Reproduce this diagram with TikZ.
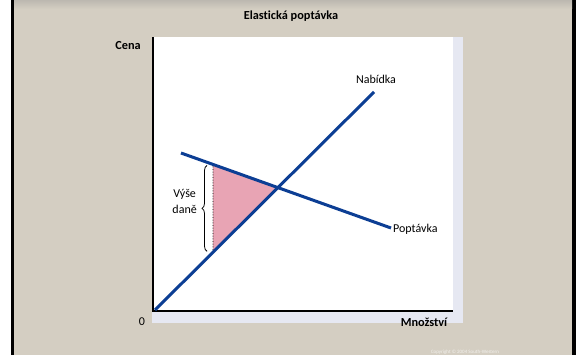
\documentclass[tikz,border=0pt]{standalone}
\usepackage{fontspec}
\setmainfont{Carlito}[Ligatures={NoCommon}]
\usetikzlibrary{decorations.pathreplacing}
\definecolor{slidebg}{RGB}{212,206,194}
\definecolor{slideshadow}{RGB}{188,184,176}
\definecolor{panelshade}{RGB}{230,232,242}
\definecolor{curveblue}{RGB}{12,62,148}
\definecolor{taxpink}{RGB}{232,164,180}
\begin{document}
\begin{tikzpicture}[x=1pt, y=-1pt,
    curve/.style={curveblue, line width=3pt},
    lbl/.style={inner sep=0pt, font=\fontsize{12}{16}\selectfont},
    boldlbl/.style={inner sep=0pt, font=\fontsize{12.3}{16}\selectfont\bfseries}]
  \useasboundingbox (0,0) rectangle (576,355);
  % slide background
  \fill[white] (0,0) rectangle (11,355);
  \fill[black] (11,0) rectangle (14,355);
  \fill[slidebg] (14,0) rectangle (572,355);
  \fill[black] (572,0) rectangle (576,355);
  \shade[top color=slideshadow, bottom color=slidebg] (14,0) rectangle (572,9);
  % panel
  \fill[panelshade] (152,37) rectangle (463,323);
  \fill[white] (153,37) rectangle (453,311);
  \coordinate (ytop) at (153,37);
  \coordinate (o) at (153,311);
  \coordinate (xend) at (453,311);
  \draw[line width=1.2pt] (ytop) -- (o) -- (xend);
  % curves
  \coordinate (s0) at (155,310);
  \coordinate (s1) at (374,92);
  \coordinate (d0) at (181,153);
  \coordinate (d1) at (391,228);
  \coordinate (t0) at (213,0);
  \coordinate (t1) at (213,355);
  \coordinate (eq) at (intersection of s0--s1 and d0--d1);
  \coordinate (ttop) at (intersection of t0--t1 and d0--d1);
  \coordinate (tbot) at (intersection of t0--t1 and s0--s1);
  \fill[taxpink] (ttop) -- (eq) -- (tbot) -- cycle;
  \draw[densely dotted, line width=0.6pt] (ttop) -- (tbot);
  \draw[curve] (s0) -- (s1);
  \draw[curve] (d0) -- (d1);
  \draw[line width=0.8pt, decorate, decoration={brace, amplitude=5pt}]
    ([xshift=-6pt, yshift=1pt]tbot) -- ([xshift=-6pt, yshift=-1pt]ttop);
  % labels
  \node[boldlbl] (title) at (291,16) {Elastická poptávka};
  \node[boldlbl] (cena) at (128,46) {Cena};
  \node[lbl] (zero) at (142,322) {0};
  \node[boldlbl] (mnozstvi) at (424,322) {Množství};
  \node[lbl] (nabidka) at (376,79) {Nabídka};
  \node[lbl, anchor=west] (poptavka) at (393,229) {Poptávka};
  \node[lbl, align=center, anchor=east] (tax) at (197,201) {Výše\\daně};
  \node[white, inner sep=0pt, font=\fontsize{5}{6}\selectfont, opacity=0.7] (copy) at (465,352) {Copyright © 2004 South-Western};
\end{tikzpicture}
\end{document}
